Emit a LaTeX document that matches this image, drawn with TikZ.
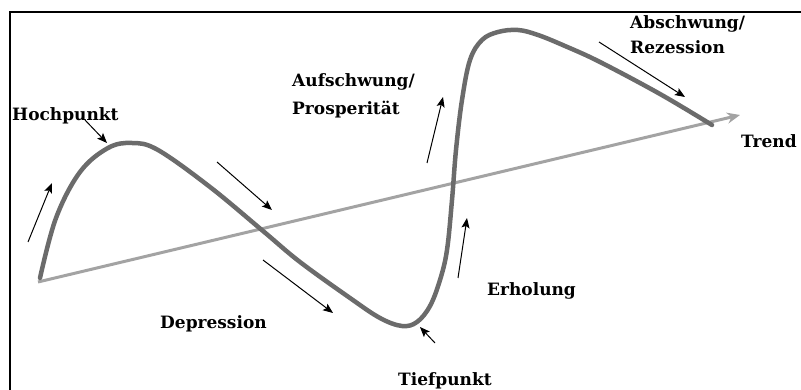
\documentclass[tikz,border=0pt]{standalone}
\usepackage{fontspec}
\setmainfont{DejaVu Serif}
\usetikzlibrary{arrows.meta}
\definecolor{curvegray}{HTML}{6B6B6B}
\definecolor{trendgray}{HTML}{A3A3A3}
\tikzset{
  lbl/.style={anchor=base west, inner sep=0pt, font=\fontsize{17}{19}\selectfont\bfseries},
  small/.style={line width=1pt, -{Stealth[length=10pt,width=8pt,inset=2pt]}},
  cycle/.style={line width=4.5pt, curvegray, line cap=round, line join=round},
  trend/.style={line width=3pt, trendgray, -{Stealth[length=13pt,width=11pt]}},
  frame/.style={line width=2pt, black}
}
\begin{document}
\begin{tikzpicture}[x=1pt,y=-1pt]
\useasboundingbox (0,0) rectangle (801,390);
\draw[frame] (10,392) -- (10,12) -- (803,12);
% trend
\coordinate (t0) at (38,282);
\coordinate (t1) at (740,115);
\draw[trend] (t0) -- (t1);
% cycle curve
\draw[cycle] plot[smooth, tension=0.6] coordinates {
 (40,278) (56,218) (80,172) (108,148) (132,143) (158,150) (210,187)
 (263,231) (300,262) (350,298) (380,318) (402,326) (417,322) (430,306) (440,280)
 (447,250) (452,200) (456,150) (462,100) (470,60) (482,40) (498,32) (518,30)
 (538,35) (565,46) (600,62) (660,94) (712,125)};
% small arrows
\coordinate (a1s) at (28,242); \coordinate (a1e) at (52,183);
\coordinate (a2s) at (85,120); \coordinate (a2e) at (107,143);
\coordinate (a3s) at (217,162); \coordinate (a3e) at (272,210);
\coordinate (a4s) at (263,260); \coordinate (a4e) at (333,313);
\coordinate (a5s) at (435,343); \coordinate (a5e) at (420,327);
\coordinate (a6s) at (458,278); \coordinate (a6e) at (467,218);
\coordinate (a7s) at (427,163); \coordinate (a7e) at (443,97);
\coordinate (a8s) at (599,42); \coordinate (a8e) at (685,97);
\foreach \i in {1,...,8} \draw[small] (a\i s) -- (a\i e);
% labels
\node[lbl] (hoch) at (12,121) {Hochpunkt};
\node[lbl] (auf1) at (292,87) {Aufschwung/};
\node[lbl] (auf2) at (292,115) {Prosperität};
\node[lbl] (ab1) at (630,29) {Abschwung/};
\node[lbl] (ab2) at (630,54) {Rezession};
\node[lbl] (trendl) at (741,148) {Trend};
\node[lbl] (dep) at (160,328) {Depression};
\node[lbl] (erh) at (487,296) {Erholung};
\node[lbl] (tief) at (398,385) {Tiefpunkt};
\end{tikzpicture}
\end{document}
